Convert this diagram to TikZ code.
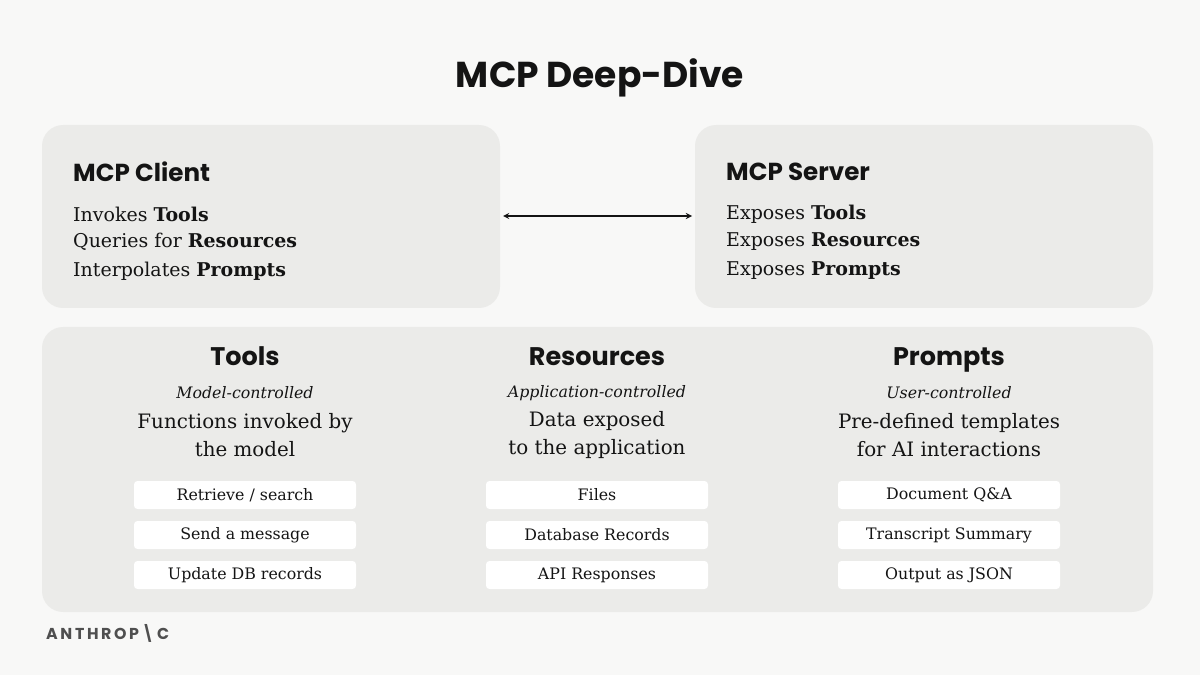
\documentclass[tikz,border=0pt]{standalone}
\usepackage{fontspec}
\setmainfont{DejaVu Serif}
\newfontfamily\headfont{Poppins}
\usetikzlibrary{positioning}
\definecolor{pagebg}{HTML}{F8F8F7}
\definecolor{panel}{HTML}{EBEBE9}
\definecolor{ink}{HTML}{141414}
\tikzset{
    panelbox/.style={fill=panel, draw=none, rounded corners=12pt},
    itembox/.style={fill=white, draw=none, rounded corners=2pt, minimum width=222*0.02cm,
        minimum height=28*0.02cm, font=\fontsize{9}{11}\selectfont, text=ink},
    colhead/.style={font=\headfont\fontsize{14.5}{18}\selectfont\bfseries, text=ink,
        text height=11pt, text depth=3pt},
    colsub/.style={font=\fontsize{9}{12}\itshape\selectfont, text=ink},
    coldesc/.style={font=\fontsize{11.3}{16}\selectfont, text=ink, align=center},
    boxhead/.style={font=\headfont\fontsize{14}{18}\selectfont\bfseries, text=ink, anchor=west},
    boxline/.style={font=\fontsize{10.8}{16}\selectfont, text=ink, anchor=west},
}
\begin{document}
\begin{tikzpicture}[x=0.02cm, y=-0.02cm]
    \fill[pagebg] (0,0) rectangle (1200,675);
    \useasboundingbox (0,0) rectangle (1200,675);
    \node[font=\headfont\fontsize{20.5}{25}\selectfont\bfseries, text=ink] (title) at (600,78) {MCP Deep-Dive};
    % upper boxes
    \draw[panelbox] (42,125) rectangle (500,308);
    \draw[panelbox] (695,125) rectangle (1153,308);
    \coordinate (clientedge) at (503,216);
    \coordinate (serveredge) at (692,216);
    \draw[<->, >=stealth, line width=0.6pt, ink] (clientedge) -- (serveredge);
    \node[boxhead] (client) at (67,172) {MCP Client};
    \node[boxline] (c1) at (67,214) {Invokes \textbf{Tools}};
    \node[boxline] (c2) at (67,242) {Queries for \textbf{Resources}};
    \node[boxline] (c3) at (67,271) {Interpolates \textbf{Prompts}};
    \node[boxhead] (server) at (720,172) {MCP Server};
    \node[boxline] (s1) at (720,214) {Exposes \textbf{Tools}};
    \node[boxline] (s2) at (720,242) {Exposes \textbf{Resources}};
    \node[boxline] (s3) at (720,271) {Exposes \textbf{Prompts}};
    % lower box
    \draw[panelbox] (42,327) rectangle (1153,612);
    \foreach \x/\name/\head/\sub/\desc/\ia/\ib/\ic in {
        245/tools/Tools/Model-controlled/{Functions invoked by\\the model}/{Retrieve / search}/{Send a message}/{Update DB records},
        597/res/Resources/Application-controlled/{Data exposed\\to the application}/Files/{Database Records}/{API Responses},
        949/prm/Prompts/User-controlled/{Pre-defined templates\\for AI interactions}/{Document Q\&A}/{Transcript Summary}/{Output as JSON}}{
        \node[colhead] (\name) at (\x,358) {\head};
        \node[colsub] (\name sub) at (\x,393) {\sub};
        \node[coldesc] (\name desc) at (\x,435) {\desc};
        \node[itembox] (\name a) at (\x,495) {\ia};
        \node[itembox] (\name b) at (\x,535) {\ib};
        \node[itembox] (\name c) at (\x,575) {\ic};
    }
    \node[anchor=west, font=\headfont\fontsize{9}{11}\selectfont\bfseries, text=ink!75] (logo) at (40,633) {A\,N\,T\,H\,R\,O\,P\,\textbackslash\,C};
\end{tikzpicture}
\end{document}
